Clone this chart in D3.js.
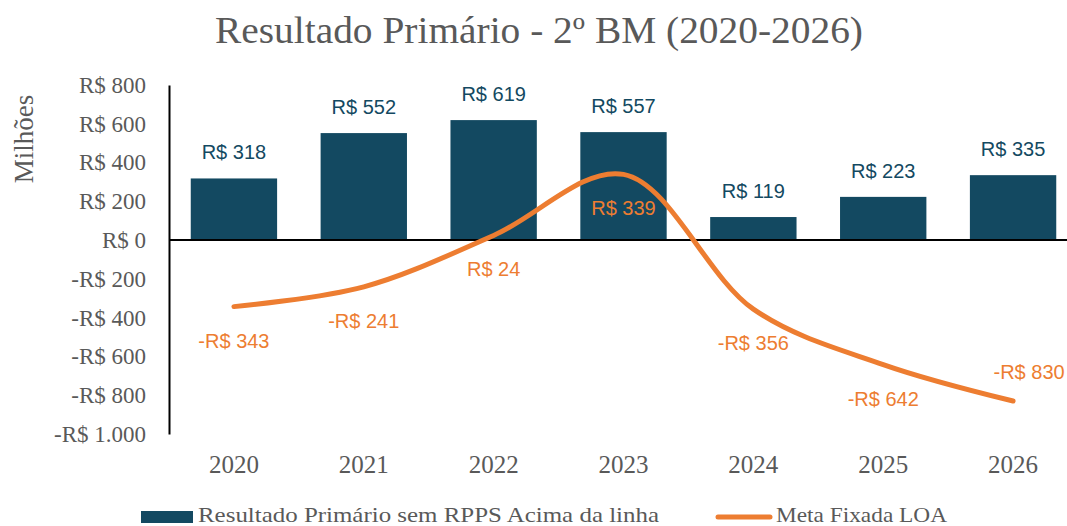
<!DOCTYPE html>
<html>
<head>
<meta charset="utf-8">
<script src="https://cdn.jsdelivr.net/npm/d3@7"></script>
<style>
  body { margin: 0; background: #fff; }
  svg { display: block; }
</style>
</head>
<body>
<svg width="1067" height="526"></svg>
<script>
const anos = ['2020', '2021', '2022', '2023', '2024', '2025', '2026']
const resultado = [318, 552, 619, 557, 119, 223, 335]
const meta = [-343, -241, 24, 339, -356, -642, -830]
const yTicks = [800, 600, 400, 200, 0, -200, -400, -600, -800, -1000]

const corBarra = '#134961'
const corLinha = '#ED7D31'
const cinza = '#595959'
const serif = '"Liberation Serif", serif'
const sans = '"Liberation Sans", Arial, sans-serif'

const svg = d3.select('svg')

const x = d3.scaleBand()
  .domain(anos)
  .range([169, 1078])
  .paddingInner(0.335)
  .paddingOuter(0.1675)

const y = d3.scaleLinear()
  .domain([-1000, 800])
  .range([434, 85])

function fmt(v) {
  const s = 'R$ ' + d3.format(',')(Math.abs(v)).replace(/,/g, '.')
  return v < 0 ? '-' + s : s
}

// titulo
svg.append('text')
  .attr('x', 539)
  .attr('y', 43)
  .attr('text-anchor', 'middle')
  .attr('font-family', serif)
  .attr('font-size', 37)
  .attr('fill', cinza)
  .attr('textLength', 648)
  .attr('lengthAdjust', 'spacingAndGlyphs')
  .text('Resultado Primário - 2º BM (2020-2026)')

svg.append('text')
  .attr('transform', 'translate(33, 139) rotate(-90)')
  .attr('text-anchor', 'middle')
  .attr('font-family', serif)
  .attr('font-size', 27)
  .attr('fill', cinza)
  .text('Milhões')

// eixo y
const eixoY = svg.append('g')
  .attr('transform', 'translate(169, 0)')
  .call(d3.axisLeft(y).tickValues(yTicks).tickSize(0).tickPadding(23).tickFormat(fmt))
eixoY.select('.domain').attr('stroke', '#000').attr('stroke-width', 2)
eixoY.selectAll('text')
  .attr('font-family', serif)
  .attr('font-size', 23)
  .attr('fill', cinza)

// barras
svg.append('g')
  .selectAll('rect')
  .data(resultado)
  .enter()
  .append('rect')
  .attr('x', (d, i) => x(anos[i]))
  .attr('y', d => y(Math.max(0, d)))
  .attr('width', x.bandwidth())
  .attr('height', d => Math.abs(y(d) - y(0)))
  .attr('fill', corBarra)

// linha zero
svg.append('line')
  .attr('x1', 169).attr('x2', 1078)
  .attr('y1', y(0)).attr('y2', y(0))
  .attr('stroke', '#000')
  .attr('stroke-width', 2)

// rotulos das barras
svg.append('g')
  .selectAll('text')
  .data(resultado)
  .enter()
  .append('text')
  .attr('x', (d, i) => x(anos[i]) + x.bandwidth() / 2)
  .attr('y', d => y(d) - 19)
  .attr('text-anchor', 'middle')
  .attr('font-family', sans)
  .attr('font-size', 20)
  .attr('fill', corBarra)
  .text(fmt)

// linha meta
const cx = (d, i) => x(anos[i]) + x.bandwidth() / 2
const linha = d3.line()
  .x(cx)
  .y(d => y(d))
  .curve(d3.curveCatmullRom.alpha(0.5))

svg.append('path')
  .datum(meta)
  .attr('d', linha)
  .attr('fill', 'none')
  .attr('stroke', corLinha)
  .attr('stroke-width', 5)
  .attr('stroke-linecap', 'round')

svg.append('g')
  .selectAll('text')
  .data(meta)
  .enter()
  .append('text')
  .attr('x', (d, i) => i == meta.length - 1 ? cx(d, i) + 16 : cx(d, i))
  .attr('y', (d, i) => i == meta.length - 1 ? y(d) - 22 : y(d) + 41)
  .attr('text-anchor', 'middle')
  .attr('font-family', sans)
  .attr('font-size', 20)
  .attr('fill', corLinha)
  .text(fmt)

// eixo x
svg.append('g')
  .selectAll('text')
  .data(anos)
  .enter()
  .append('text')
  .attr('x', d => x(d) + x.bandwidth() / 2)
  .attr('y', 473)
  .attr('text-anchor', 'middle')
  .attr('font-family', serif)
  .attr('font-size', 25)
  .attr('fill', cinza)
  .text(d => d)

// legenda
const leg = svg.append('g')
leg.append('rect')
  .attr('x', 141).attr('y', 511)
  .attr('width', 52).attr('height', 12)
  .attr('fill', corBarra)
leg.append('text')
  .attr('x', 198).attr('y', 522)
  .attr('font-family', serif)
  .attr('font-size', 22)
  .attr('fill', cinza)
  .attr('textLength', 461)
  .attr('lengthAdjust', 'spacingAndGlyphs')
  .text('Resultado Primário sem RPPS Acima da linha')
leg.append('line')
  .attr('x1', 718).attr('x2', 770)
  .attr('y1', 517).attr('y2', 517)
  .attr('stroke', corLinha)
  .attr('stroke-width', 5)
  .attr('stroke-linecap', 'round')
leg.append('text')
  .attr('x', 776).attr('y', 522)
  .attr('font-family', serif)
  .attr('font-size', 22)
  .attr('fill', cinza)
  .attr('textLength', 171)
  .attr('lengthAdjust', 'spacingAndGlyphs')
  .text('Meta Fixada LOA')
</script>
</body>
</html>
